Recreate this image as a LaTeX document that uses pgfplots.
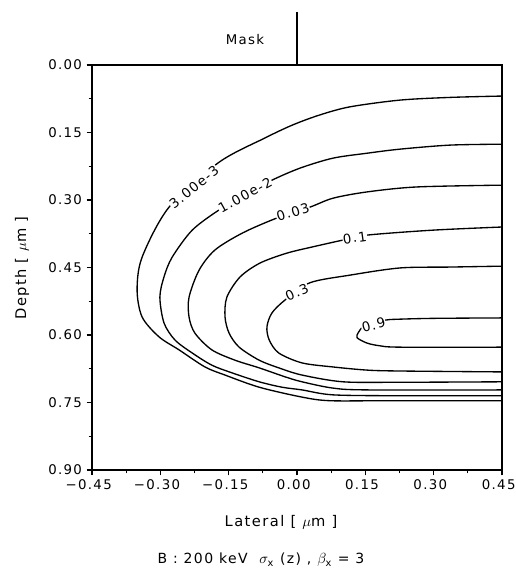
\documentclass[border=0pt]{standalone}
\usepackage{fontspec}
\setmainfont{DejaVu Sans}[LetterSpace=10]
\usepackage{pgfplots}
\pgfplotsset{compat=1.18}
\begin{document}
\begin{tikzpicture}
\useasboundingbox (-69pt,-78pt) rectangle (317.25pt,352.5pt);
\begin{axis}[
  scale only axis, width=307.5pt, height=303.75pt,
  at={(0,0)}, anchor=south west,
  xmin=-0.45, xmax=0.45, ymin=0, ymax=0.9, y dir=reverse,
  xtick={-0.45,-0.3,-0.15,0,0.15,0.3,0.45},
  xticklabels={−0.45,−0.30,−0.15,0.00,0.15,0.30,0.45},
  ytick={0,0.15,0.3,0.45,0.6,0.75,0.9},
  yticklabels={0.00,0.15,0.30,0.45,0.60,0.75,0.90},
  minor x tick num=1, minor y tick num=1,
  xtick pos=bottom, ytick pos=left, tick align=outside,
  major tick length=4pt, minor tick length=2.5pt,
  axis line style={line width=0.9pt}, every tick/.style={black, line width=0.8pt},
  tick label style={font=\fontsize{10}{12}\selectfont},
  xticklabel style={xshift=-2.5pt},
  clip=false,
]
% 3.00e-3
\addplot[black, line width=1pt, smooth, tension=0.5] coordinates {
(0.45,0.069)(0.336,0.072)(0.226,0.078)(0.116,0.093)(0.050,0.111)(-0.009,0.133)(-0.070,0.162)(-0.171,0.216)(-0.281,0.316)(-0.340,0.427)(-0.351,0.500)(-0.340,0.560)(-0.303,0.604)(-0.259,0.633)(-0.202,0.671)(-0.158,0.689)(-0.083,0.716)(0.011,0.738)(0.072,0.746)(0.2,0.746)(0.45,0.746)};
% 1.00e-2
\addplot[black, line width=1pt, smooth, tension=0.5] coordinates {
(0.45,0.176)(0.336,0.178)(0.226,0.187)(0.154,0.196)(0.079,0.207)(0.007,0.229)(-0.055,0.256)(-0.113,0.288)(-0.171,0.322)(-0.230,0.367)(-0.274,0.427)(-0.292,0.471)(-0.301,0.516)(-0.292,0.573)(-0.268,0.611)(-0.230,0.640)(-0.187,0.667)(-0.143,0.684)(-0.083,0.704)(-0.033,0.716)(0.011,0.722)(0.079,0.733)(0.226,0.735)(0.45,0.735)};
% 0.03
\addplot[black, line width=1pt, smooth, tension=0.5] coordinates {
(0.45,0.267)(0.263,0.271)(0.154,0.282)(0.079,0.296)(0.028,0.316)(-0.044,0.340)(-0.119,0.373)(-0.180,0.411)(-0.215,0.456)(-0.237,0.516)(-0.237,0.560)(-0.224,0.596)(-0.187,0.633)(-0.136,0.656)(-0.083,0.673)(-0.026,0.693)(0.011,0.704)(0.079,0.718)(0.154,0.722)(0.45,0.722)};
% 0.1
\addplot[black, line width=1pt, smooth, tension=0.5] coordinates {
(0.45,0.360)(0.298,0.367)(0.154,0.378)(0.101,0.389)(0.035,0.404)(-0.022,0.418)(-0.081,0.440)(-0.125,0.471)(-0.154,0.516)(-0.158,0.560)(-0.149,0.596)(-0.127,0.627)(-0.083,0.656)(-0.040,0.673)(0.011,0.689)(0.101,0.704)(0.226,0.705)(0.45,0.704)};
% 0.3
\addplot[black, line width=1pt, smooth, tension=0.5] coordinates {
(0.45,0.447)(0.336,0.449)(0.226,0.451)(0.116,0.467)(0.028,0.484)(-0.026,0.522)(-0.055,0.551)(-0.066,0.582)(-0.061,0.611)(-0.040,0.640)(0.011,0.662)(0.079,0.671)(0.154,0.678)(0.226,0.680)(0.45,0.682)};
% 0.9
\addplot[black, line width=1pt, smooth, tension=0.5] coordinates {
(0.45,0.562)(0.30,0.563)(0.22,0.565)(0.193,0.567)(0.15,0.578)(0.135,0.594)(0.132,0.606)(0.154,0.618)(0.182,0.624)(0.226,0.627)(0.45,0.627)};
% contour labels
\begin{scope}[every node/.style={fill=white, inner sep=0.4pt, font=\fontsize{10}{12}\selectfont}]
\node[rotate=39] at (axis cs:-0.226,0.271) {3.00e-3};
\node[rotate=29] at (axis cs:-0.114,0.289) {1.00e-2};
\node[rotate=18] at (axis cs:-0.009,0.327) {0.03};
\node[rotate=8] at (axis cs:0.127,0.384) {0.1};
\node[rotate=25] at (axis cs:0.0,0.505) {0.3};
\node[rotate=15] at (axis cs:0.168,0.578) {0.9};
\end{scope}
\end{axis}
% mask
\draw[line width=0.9pt] (153.75pt,303.75pt) -- (153.75pt,343.5pt);
\node[font=\fontsize{10}{12}\selectfont] at (114.75pt,322.5pt) {Mask};
\node[font=\fontsize{11}{13}\selectfont] at (141.75pt,-39pt) {Lateral [ $\mu$m ]};
\node[font=\fontsize{11}{13}\selectfont, rotate=90] at (-52.5pt,151.5pt) {Depth [ $\mu$m ]};
\node[font=\fontsize{10.5}{12}\selectfont] at (126.75pt,-67.5pt) {B : 200 keV\ \ $\sigma_{\mathrm{x}}$ (z) , $\beta_{\mathrm{x}}$ = 3};
\end{tikzpicture}
\end{document}
